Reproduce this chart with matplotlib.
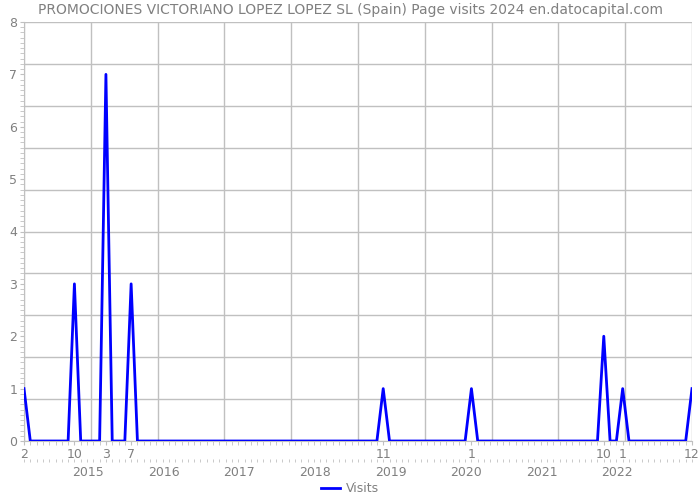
import matplotlib.pyplot as plt
import numpy as np
from matplotlib.ticker import FixedLocator, MultipleLocator

TITLE = "PROMOCIONES VICTORIANO LOPEZ LOPEZ SL (Spain) Page visits 2024 en.datocapital.com"
FIRST_YEAR, FIRST_MONTH = 2014, 2

# monthly visits, Feb 2014 .. Dec 2022
visits = [
    1, 0, 0, 0, 0, 0, 0, 0, 3, 0, 0,      # 2014 (Feb-Dec)
    0, 0, 7, 0, 0, 0, 3, 0, 0, 0, 0, 0,   # 2015
    0, 0, 0, 0, 0, 0, 0, 0, 0, 0, 0, 0,   # 2016
    0, 0, 0, 0, 0, 0, 0, 0, 0, 0, 0, 0,   # 2017
    0, 0, 0, 0, 0, 0, 0, 0, 0, 0, 1, 0,   # 2018
    0, 0, 0, 0, 0, 0, 0, 0, 0, 0, 0, 0,   # 2019
    1, 0, 0, 0, 0, 0, 0, 0, 0, 0, 0, 0,   # 2020
    0, 0, 0, 0, 0, 0, 0, 0, 0, 2, 0, 0,   # 2021
    1, 0, 0, 0, 0, 0, 0, 0, 0, 0, 0, 1,   # 2022
]
year_labels = ["2015", "2016", "2017", "2018", "2019", "2020", "2021", "2022", "2023"]

GRAY = "#808080"
GRID = "#c0c0c0"
plt.rcParams["font.family"] = ["DejaVu Sans"]

x = np.arange(len(visits))
month_num = [(FIRST_MONTH - 1 + i) % 12 + 1 for i in x]

fig = plt.figure(figsize=(7, 5), dpi=100)
ax = fig.add_axes([24 / 700, 1 - 441 / 500, 668 / 700, 419 / 500])

# grid: 10 equal divisions each way
for gy in np.linspace(0, 8, 11):
    ax.axhline(gy, color=GRID, lw=1, zorder=0)
for gx in np.linspace(0, len(visits) - 1, 11):
    ax.axvline(gx, color=GRID, lw=1, zorder=0)

ax.plot(x, visits, color="#0000ff", lw=2, label="Visits", zorder=3)

ax.set_xlim(0, len(visits) - 1)
ax.set_ylim(0, 8)

for side in ["top", "right"]:
    ax.spines[side].set_visible(False)
for side in ["left", "bottom"]:
    ax.spines[side].set_color(GRID)

ax.yaxis.set_major_locator(MultipleLocator(1))
ax.yaxis.set_minor_locator(MultipleLocator(0.1))
ax.tick_params(axis="y", which="both", color=GRID, labelcolor=GRAY, labelsize=9, pad=2)
ax.tick_params(axis="y", which="major", length=3)
ax.tick_params(axis="y", which="minor", length=3)

# month labels where there were visits
lab_idx = [i for i in x if visits[i] > 0]
ax.set_xticks(lab_idx)
ax.set_xticklabels([str(month_num[i]) for i in lab_idx])
ax.xaxis.set_minor_locator(FixedLocator(x))
ax.tick_params(axis="x", which="both", color=GRID, labelcolor=GRAY, labelsize=9, length=3, pad=2)

# year row below
sec = ax.secondary_xaxis(-18 / 419)
sec.spines["bottom"].set_visible(False)
jan_idx = [i for i in x if month_num[i] == 1]
jan_idx.append(jan_idx[-1] + 12)
sec.set_xticks([i - 0.85 for i in jan_idx])
sec.set_xticklabels(year_labels)
sec.xaxis.set_minor_locator(FixedLocator(x))
sec.tick_params(axis="x", which="major", length=0, labelcolor=GRAY, labelsize=9, pad=5)
sec.tick_params(axis="x", which="minor", length=2, color=GRID)

fig.text(0.5, 1 - 10 / 500, TITLE, ha="center", va="center", color=GRAY, fontsize=10)
fig.legend(loc="center", bbox_to_anchor=(0.5, 1 - 489 / 500), frameon=False,
           fontsize=9, labelcolor=GRAY, handlelength=1.5, handletextpad=0.5)

fig.savefig("out.png", dpi=100)
